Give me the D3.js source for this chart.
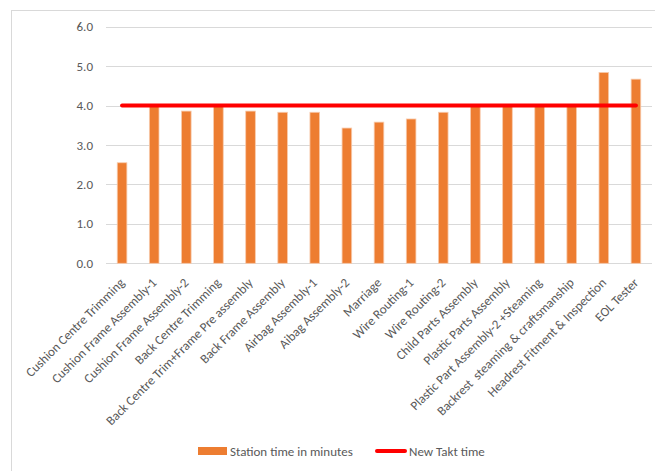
<!DOCTYPE html>
<html>
<head>
<meta charset="utf-8">
<script src="https://cdn.jsdelivr.net/npm/d3@7"></script>
<style>
  body { margin: 0; background: #fff; }
  text { font-family: Calibri, Carlito, Lato, sans-serif; fill: #595959; white-space: pre; }
</style>
</head>
<body>
<div id="chart"></div>
<script>
const stations = [
  "Cushion Centre Trimming",
  "Cushion Frame Assembly-1",
  "Cushion Frame Assembly-2",
  "Back Centre Trimming",
  "Back Centre Trim+Frame Pre assembly",
  "Back Frame Assembly",
  "Airbag Assembly-1",
  "Aibag Assembly-2",
  "Marriage",
  "Wire Routing-1",
  "Wire Routing-2",
  "Child Parts Assembly",
  "Plastic Parts Assembly",
  "Plastic Part Assembly-2 +Steaming",
  "Backrest  steaming & craftsmanship",
  "Headrest Fitment & Inspection",
  "EOL Tester"
]
const stationTime = [2.55, 3.98, 3.86, 3.98, 3.86, 3.83, 3.83, 3.43, 3.58, 3.66, 3.83, 3.98, 3.98, 3.98, 3.98, 4.84, 4.67]
const taktTime = 4.0
const yTicks = [0, 1, 2, 3, 4, 5, 6]

const W = 655, H = 471
const PLOT = { LEFT: 106, RIGHT: 652, TOP: 26.7, BOTTOM: 263.3 }
const FS = 13

const svg = d3.select("#chart").append("svg")
  .attr("width", W)
  .attr("height", H)

// chart area border (cropped on right and bottom)
svg.append("rect")
  .attr("x", 11.5).attr("y", 10.5)
  .attr("width", 700).attr("height", 500)
  .attr("fill", "none")
  .attr("stroke", "#d9d9d9")

const x = d3.scaleBand()
  .domain(stations)
  .range([PLOT.LEFT, PLOT.RIGHT])
  .paddingInner(0.7)
  .paddingOuter(0.35)

const y = d3.scaleLinear()
  .domain([0, 6])
  .range([PLOT.BOTTOM, PLOT.TOP])

// gridlines
svg.append("g")
  .selectAll("line")
  .data(yTicks)
  .join("line")
    .attr("x1", PLOT.LEFT)
    .attr("x2", PLOT.RIGHT)
    .attr("y1", d => Math.round(y(d)) + 0.5)
    .attr("y2", d => Math.round(y(d)) + 0.5)
    .attr("stroke", "#d9d9d9")
    .attr("stroke-width", 1.2)

// y labels
svg.append("g")
  .selectAll("text")
  .data(yTicks)
  .join("text")
    .attr("x", 93)
    .attr("y", d => y(d))
    .attr("dy", "0.35em")
    .attr("text-anchor", "end")
    .attr("font-size", FS)
    .text(d => d.toFixed(1))

// bars
svg.append("g")
  .selectAll("rect")
  .data(stationTime)
  .join("rect")
    .attr("x", (d, i) => x(stations[i]))
    .attr("y", d => y(d))
    .attr("width", x.bandwidth())
    .attr("height", d => y(0) - y(d))
    .attr("fill", "#ed7d31")
    .attr("stroke", "#f8cbad")
    .attr("stroke-width", 0.8)

// takt line
const first = stations[0], last = stations[stations.length - 1]
svg.append("line")
  .attr("x1", x(first) + x.bandwidth() / 2)
  .attr("x2", x(last) + x.bandwidth() / 2)
  .attr("y1", y(taktTime))
  .attr("y2", y(taktTime))
  .attr("stroke", "#ff0000")
  .attr("stroke-width", 4)
  .attr("stroke-linecap", "round")

// category labels
svg.append("g")
  .selectAll("text")
  .data(stations)
  .join("text")
    .attr("transform", d => `translate(${x(d) + x.bandwidth() / 2}, ${PLOT.BOTTOM + 17}) rotate(-45)`)
    .attr("text-anchor", "end")
    .attr("dy", "0.35em")
    .attr("font-size", FS)
    .text(d => d)

// legend
const lg = svg.append("g")
lg.append("rect")
  .attr("x", 198).attr("y", 447)
  .attr("width", 29).attr("height", 8)
  .attr("fill", "#ed7d31")
lg.append("text")
  .attr("x", 230).attr("y", 451)
  .attr("dy", "0.35em")
  .attr("font-size", FS)
  .text("Station time in minutes")
lg.append("line")
  .attr("x1", 377).attr("x2", 405)
  .attr("y1", 451).attr("y2", 451)
  .attr("stroke", "#ff0000")
  .attr("stroke-width", 4)
  .attr("stroke-linecap", "round")
lg.append("text")
  .attr("x", 409).attr("y", 451)
  .attr("dy", "0.35em")
  .attr("font-size", FS)
  .text("New Takt time")
</script>
</body>
</html>
